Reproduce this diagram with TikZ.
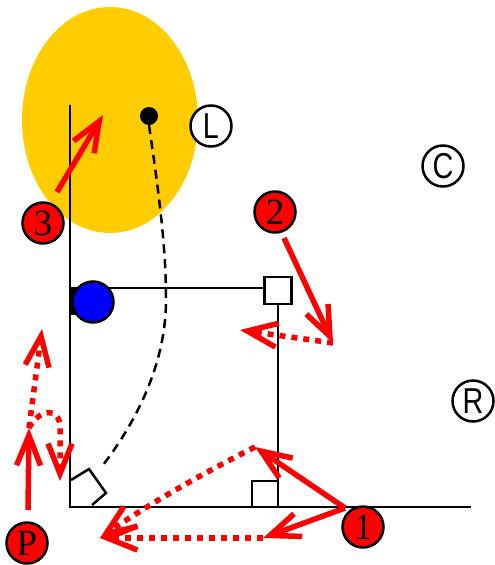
\documentclass[tikz,border=0pt]{standalone}
\usepackage{fontspec}
\usepackage{graphicx}
\setmainfont{Liberation Serif}
\newfontfamily\lettersf{Liberation Sans}
\usetikzlibrary{arrows.meta}
\definecolor{sunyellow}{HTML}{FFCC00}
\definecolor{arrowred}{HTML}{FF0000}
\tikzset{
  redc/.style={circle,draw=black,line width=2.5pt,fill=arrowred,minimum size=41pt,inner sep=0pt,
    font=\fontsize{37}{37}\selectfont},
  whc/.style={circle,draw=black,line width=2.5pt,fill=white,minimum size=41pt,inner sep=0pt,
    font=\lettersf\fontsize{36}{36}\selectfont},
  blk/.style={draw=black,line width=2.5pt},
  redarrow/.style={draw=arrowred,line width=5.5pt,-{Straight Barb[length=30pt,width=24pt]}},
  reddotted/.style={redarrow,dash pattern=on 6pt off 6pt},
}
\begin{document}
\begin{tikzpicture}[x=1pt,y=-1pt]
\useasboundingbox (0,0) rectangle (495,565);
% sun
\fill[sunyellow] (110,120) ellipse [x radius=88, y radius=113];
% frame lines
\draw[blk] (70,105) -- (70,507) -- (471,507);
\draw[blk] (70,288) -- (263,288);
\node[draw=black,line width=2.5pt,fill=white,minimum size=27pt,inner sep=0pt] (sq) at (278,290.5) {};
\draw[blk] (sq.south) -- (sq.south |- 0,507);
\draw[blk] (252,507) -- (252,481) -- (278,481);
\draw[blk] (71,480) -- (89,469) -- (106,493) -- (92,505);
% blue ball
\fill[black] (71,287) rectangle (76,315);
\node[circle,draw=black,line width=2.5pt,fill=blue,minimum size=41pt,inner sep=0pt] (ball) at (93,302) {};
% dot and dashed curve
\node[circle,fill=black,minimum size=18pt,inner sep=0pt] (dot) at (149,116) {};
\coordinate (dashend) at (103,465);
\draw[black,line width=2.5pt,dash pattern=on 9pt off 6pt] (dot.south) .. controls (160,200) and (166,250) .. (166,300) .. controls (166,370) and (130,430) .. (dashend);
% labels
\node[whc] (L) at (211,126) {\scalebox{0.8}[1]{L}};
\node[whc] (C) at (443,166) {\scalebox{0.8}[1]{C}};
\node[whc] (R) at (473,401) {\scalebox{0.8}[1]{R}};
\node[redc] (n3) at (43,223) {3};
\node[redc] (n2) at (275,212) {2};
\node[redc] (n1) at (363,527) {1};
\node[redc] (nP) at (27,543) {P};
% arrow coordinates
\coordinate (a3s) at (57,192);
\coordinate (a3e) at (103,115);
\coordinate (a2s) at (284,238);
\coordinate (a2e) at (333,343);
\coordinate (d2e) at (240,330);
\coordinate (a1s) at (345,508);
\coordinate (a1e) at (255,447);
\coordinate (a1f) at (263,538);
\coordinate (d1e) at (100,538);
\coordinate (aPs) at (28,510);
\coordinate (aPe) at (29,428);
\coordinate (dPe) at (42,329);
\coordinate (dPl) at (60,481);
% arrows
\draw[redarrow] (a3s) -- (a3e);
\draw[redarrow] (a2s) -- (a2e);
\draw[reddotted] (a2e) -- (d2e);
\draw[redarrow] (a1s) -- (a1e);
\draw[redarrow] (a1s) -- (a1f);
\draw[reddotted] (a1f) -- (d1e);
\draw[reddotted] (a1e) .. controls (190,480) and (140,510) .. (d1e);
\draw[redarrow] (aPs) -- (aPe);
\draw[reddotted] (aPe) -- (dPe);
\draw[reddotted] (aPe) .. controls (38,410) and (60,405) .. (60,428) -- (dPl);
\end{tikzpicture}
\end{document}
